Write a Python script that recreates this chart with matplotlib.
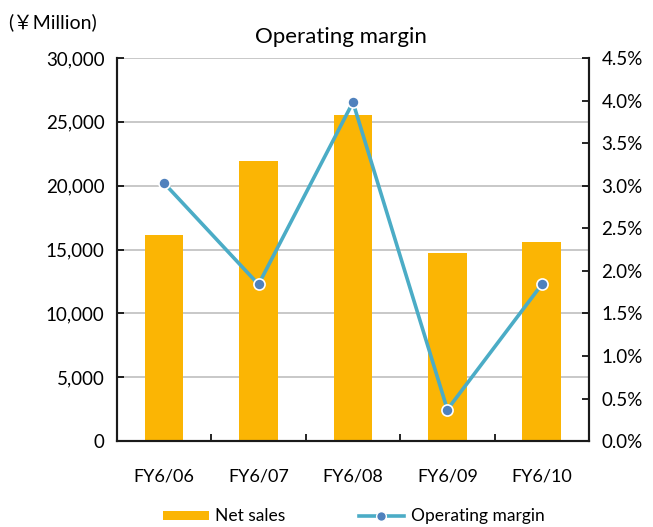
import matplotlib
matplotlib.use("Agg")
import matplotlib.pyplot as plt
import numpy as np
from matplotlib.ticker import FuncFormatter, MultipleLocator
from matplotlib.lines import Line2D
from matplotlib.patches import Patch

plt.rcParams['font.family'] = ['Lato', 'Noto Sans CJK JP', 'DejaVu Sans']

years = ["FY6/06", "FY6/07", "FY6/08", "FY6/09", "FY6/10"]
net_sales = [16100, 21900, 25500, 14700, 15600]        # ¥ million
operating_margin = [3.03, 1.84, 3.98, 0.37, 1.84]      # %

bar_color = "#FBB504"
line_color = "#4BACC6"
marker_color = "#4F81BD"

fig = plt.figure(figsize=(6.53, 5.27), dpi=100)
ax = fig.add_axes([0.179, 0.163, 0.723, 0.727])
ax2 = ax.twinx()

x = np.arange(len(years))
ax.bar(x, net_sales, width=0.41, color=bar_color, zorder=2)
ax.set_xlim(-0.5, len(years) - 0.5)
ax.set_ylim(0, 30000)
ax.yaxis.set_major_locator(MultipleLocator(5000))
ax.yaxis.set_major_formatter(FuncFormatter(lambda v, p: f"{int(v):,}"))
ax.grid(axis='y', color='#BFBFBF', linewidth=1.2, zorder=0)
ax.set_axisbelow(True)

ax.set_xticks(x)
ax.set_xticklabels(years)
ax.set_xticks(np.arange(-0.5, len(years)), minor=True)
ax.tick_params(axis='x', which='major', length=0, pad=20, labelsize=13)
ax.tick_params(axis='x', which='minor', direction='in', length=5, width=1.2)
ax.tick_params(axis='y', direction='in', length=5, width=1.2, labelsize=13.5, pad=9)

ax2.plot(x, operating_margin, color=line_color, linewidth=2.6, marker='o',
         markersize=8, markerfacecolor=marker_color, markeredgecolor='white',
         markeredgewidth=1.2, zorder=3)
ax2.set_ylim(0, 4.5)
ax2.yaxis.set_major_locator(MultipleLocator(0.5))
ax2.yaxis.set_major_formatter(FuncFormatter(lambda v, p: f"{v:.1f}%"))
ax2.tick_params(axis='y', direction='in', length=5, width=1.2, labelsize=13.5, pad=9)

for a in (ax, ax2):
    a.spines['top'].set_visible(False)
    for s in ('left', 'right', 'bottom'):
        a.spines[s].set_linewidth(1.5)
        a.spines[s].set_color('#1a1a1a')

fig.text(0.522, 0.930, "Operating margin", ha='center', va='center', fontsize=16)
fig.text(0.012, 0.958, "(￥Million)", ha='left', va='center', fontsize=14)

handles = [
    Patch(facecolor=bar_color, edgecolor='none'),
    Line2D([0], [0], color=line_color, linewidth=2.6, marker='o', markersize=7,
           markerfacecolor=marker_color, markeredgecolor='white'),
]
fig.legend(handles, ["Net sales", "Operating margin"], loc='center',
           bbox_to_anchor=(0.542, 0.020), ncol=2, frameon=False, fontsize=12.5,
           handlelength=2.6, handleheight=0.45, columnspacing=4.2,
           handletextpad=0.4, borderpad=0, borderaxespad=0)

fig.savefig("out.png", dpi=100)
